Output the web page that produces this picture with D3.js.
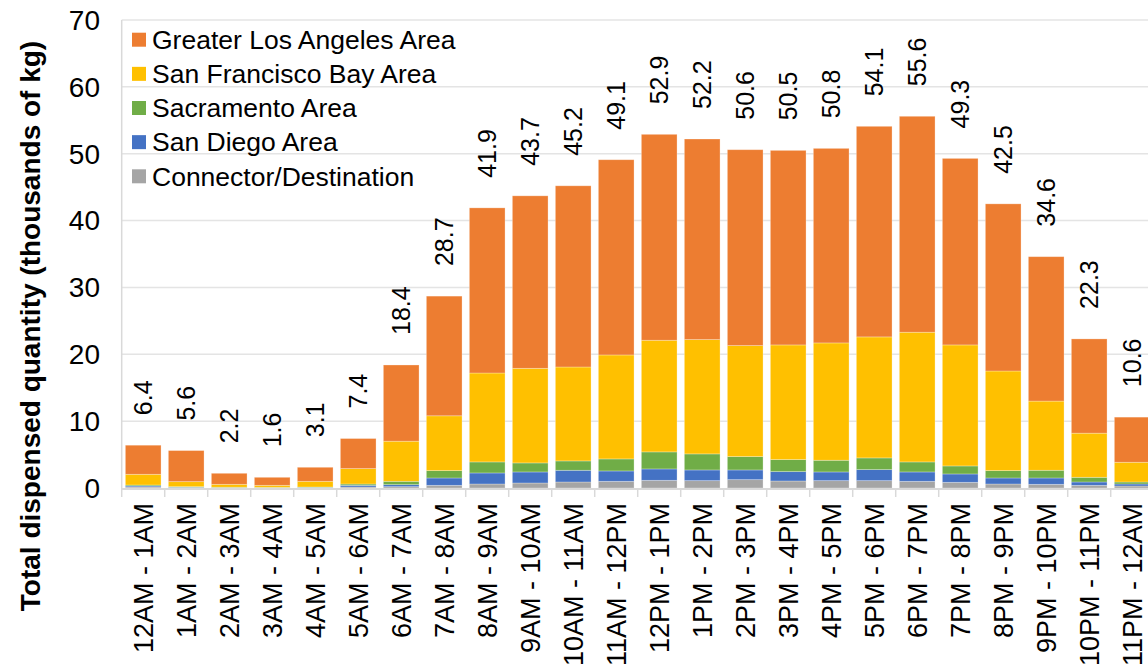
<!DOCTYPE html>
<html>
<head>
<meta charset="utf-8">
<script src="https://cdn.jsdelivr.net/npm/d3@7"></script>
<style>
  html, body { margin: 0; padding: 0; background: #fff; overflow: hidden; }
  svg { display: block; font-family: "Liberation Sans", Arial, sans-serif; }
</style>
</head>
<body>
<svg id="chart" width="1148" height="667"></svg>
<script>
const categories = ["12AM - 1AM","1AM - 2AM","2AM - 3AM","3AM - 4AM","4AM - 5AM","5AM - 6AM",
  "6AM - 7AM","7AM - 8AM","8AM - 9AM","9AM - 10AM","10AM - 11AM","11AM - 12PM",
  "12PM - 1PM","1PM - 2PM","2PM - 3PM","3PM - 4PM","4PM - 5PM","5PM - 6PM",
  "6PM - 7PM","7PM - 8PM","8PM - 9PM","9PM - 10PM","10PM - 11PM","11PM - 12AM"];

const laValues   = [4.35,4.65,1.65,1.2,2.1,4.5,11.4,17.9,24.7,25.8,27.1,29.2,30.8,30.0,29.3,29.1,29.1,31.5,32.3,27.9,25.0,21.6,14.1,6.75];
const sfValues   = [1.6,0.75,0.43,0.3,0.85,2.3,6.0,8.2,13.3,14.15,14.05,15.55,16.7,17.1,16.6,17.15,17.55,18.1,19.4,18.1,14.9,10.35,6.6,2.95];
const sacValues  = [0.15,0.08,0.05,0.04,0.05,0.2,0.5,1.1,1.65,1.35,1.4,1.8,2.55,2.4,2.0,1.8,1.75,1.75,1.5,1.2,1.1,1.15,0.7,0.3];
const sdValues   = [0.15,0.07,0.04,0.03,0.05,0.25,0.3,1.1,1.65,1.65,1.75,1.55,1.7,1.6,1.45,1.4,1.3,1.65,1.4,1.25,0.9,0.95,0.5,0.3];
const connValues = [0.15,0.05,0.03,0.03,0.05,0.15,0.2,0.4,0.6,0.75,0.9,1.0,1.15,1.1,1.25,1.05,1.1,1.1,1.0,0.85,0.6,0.55,0.4,0.3];
const totals     = [6.4,5.6,2.2,1.6,3.1,7.4,18.4,28.7,41.9,43.7,45.2,49.1,52.9,52.2,50.6,50.5,50.8,54.1,55.6,49.3,42.5,34.6,22.3,10.6];

const yTicks = [0,10,20,30,40,50,60,70];
const yTitle = "Total dispensed quantity (thousands of kg)";

// stacking order bottom -> top
const seriesKeys = ["conn","sd","sac","sf","la"];
const seriesNames = {
  la: "Greater Los Angeles Area",
  sf: "San Francisco Bay Area",
  sac: "Sacramento Area",
  sd: "San Diego Area",
  conn: "Connector/Destination"
};
const colors = { la: "#ED7D31", sf: "#FFC000", sac: "#70AD47", sd: "#4472C4", conn: "#A5A5A5" };
const legendOrder = ["la","sf","sac","sd","conn"];

const table = categories.map((c, i) => ({
  cat: c, la: laValues[i], sf: sfValues[i], sac: sacValues[i], sd: sdValues[i], conn: connValues[i], total: totals[i]
}));

const svg = d3.select("#chart");
const x0 = 121.7, step = 43;
const x = d3.scaleBand().domain(categories)
  .range([x0, x0 + step * categories.length])
  .paddingInner(0.17).paddingOuter(0.085);
const y = d3.scaleLinear().domain([0, 70]).range([488, 20]);

// gridlines
svg.append("g").selectAll("line").data(yTicks.filter(d => d > 0)).join("line")
  .attr("x1", x0).attr("x2", 1148)
  .attr("y1", d => y(d)).attr("y2", d => y(d))
  .attr("stroke", "#e4e4e4").attr("stroke-width", 1.5);

// y axis line
svg.append("line").attr("x1", x0).attr("x2", x0).attr("y1", y(70)).attr("y2", y(0))
  .attr("stroke", "#d9d9d9").attr("stroke-width", 1.5);

// y tick labels
svg.append("g").selectAll("text").data(yTicks).join("text")
  .attr("x", 100).attr("y", d => y(d)).attr("dy", "0.35em")
  .attr("text-anchor", "end").attr("font-size", 28).attr("fill", "#000")
  .text(d => d);

// stacked bars
const stack = d3.stack().keys(seriesKeys)(table);
svg.append("g").selectAll("g").data(stack).join("g")
  .attr("fill", d => colors[d.key])
  .selectAll("rect").data(d => d).join("rect")
  .attr("x", d => x(d.data.cat))
  .attr("width", x.bandwidth())
  .attr("y", d => y(d[1]))
  .attr("height", d => Math.max(0, y(d[0]) - y(d[1])))
  .attr("stroke", "rgba(255,255,255,0.35)").attr("stroke-width", 0.8);

// x axis line and ticks
svg.append("line").attr("x1", x0).attr("x2", 1148).attr("y1", y(0) + 1).attr("y2", y(0) + 1)
  .attr("stroke", "#d9d9d9").attr("stroke-width", 2);
const boundaries = d3.range(categories.length + 1).map(i => x0 + i * x.step());
svg.append("g").selectAll("line").data(boundaries).join("line")
  .attr("x1", d => d).attr("x2", d => d)
  .attr("y1", y(0)).attr("y2", y(0) + 9)
  .attr("stroke", "#d9d9d9").attr("stroke-width", 1.5);

// x tick labels
svg.append("g").selectAll("text").data(categories).join("text")
  .attr("transform", d => `translate(${x(d) + x.bandwidth() / 2},503) rotate(-90)`)
  .attr("dy", "0.35em").attr("text-anchor", "end")
  .attr("font-size", 27).attr("fill", "#000")
  .text(d => d);

// data labels
svg.append("g").selectAll("text").data(table).join("text")
  .attr("transform", d => {
    const top = d.la + d.sf + d.sac + d.sd + d.conn;
    return `translate(${x(d.cat) + x.bandwidth() / 2},${y(top) - 30}) rotate(-90)`;
  })
  .attr("dy", "0.35em").attr("text-anchor", "start")
  .attr("font-size", 25).attr("fill", "#000")
  .text(d => d.total.toFixed(1));

// y axis title
svg.append("text")
  .attr("transform", "translate(30,326) rotate(-90)")
  .attr("dy", "0.35em").attr("text-anchor", "middle")
  .attr("font-size", 28).attr("font-weight", "bold").attr("fill", "#000")
  .text(yTitle);

// legend
const legend = svg.append("g").selectAll("g").data(legendOrder).join("g")
  .attr("transform", (d, i) => `translate(132,${39.7 + i * 34.15})`);
legend.append("rect").attr("x", 0).attr("y", -7).attr("width", 14).attr("height", 14)
  .attr("fill", d => colors[d]);
legend.append("text").attr("x", 20).attr("y", 0).attr("dy", "0.35em")
  .attr("font-size", 26.5).attr("fill", "#000")
  .text(d => seriesNames[d]);
</script>
</body>
</html>
